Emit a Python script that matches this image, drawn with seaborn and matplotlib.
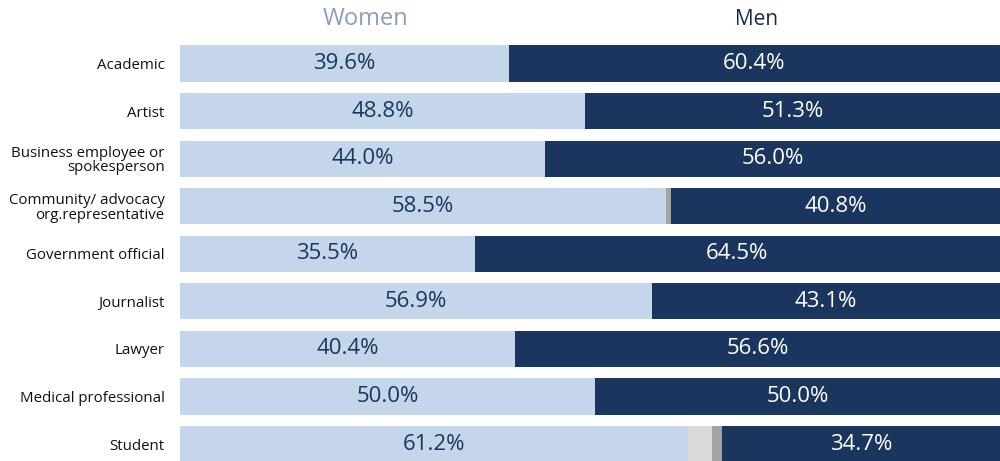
import numpy as np
import pandas as pd
import matplotlib.pyplot as plt
import seaborn as sns

# --- Data ---
categories = ["Academic", "Artist", "Business employee or\nspokesperson",
              "Community/ advocacy\norg.representative", "Government official",
              "Journalist", "Lawyer", "Medical professional", "Student"]
women = [39.6, 48.8, 44.0, 58.5, 35.5, 56.9, 40.4, 50.0, 61.2]
men = [60.4, 51.3, 56.0, 40.8, 64.5, 43.1, 56.6, 50.0, 34.7]
other_light = [0, 0, 0, 0, 0, 0, 0, 0, 2.9]
other_dark = [0, 0, 0, 0.7, 0, 0, 0, 0, 1.2]

df = pd.DataFrame({"cat": categories, "women": women, "men": men,
                   "o1": other_light, "o2": other_dark})
df["c1"] = df["women"] + df["o1"]
df["c2"] = df["c1"] + df["o2"]
df["full"] = 100.0

# --- Colours ---
c_women = "#c5d5ea"
c_men = "#1a365f"
c_o1 = "#d9d9d9"
c_o2 = "#a3a3a3"

sns.set_theme(style="white")
plt.rcParams["font.family"] = ["Open Sans", "DejaVu Sans"]

fig = plt.figure(figsize=(10, 4.61), dpi=100)
ax = fig.add_axes([0.18, 0, 0.82, 1])

# stacked bars drawn back to front (cumulative widths)
for col, colr in [("full", c_men), ("c2", c_o2), ("c1", c_o1), ("women", c_women)]:
    sns.barplot(data=df, x=col, y="cat", orient="h", color=colr, saturation=1,
                width=0.76, linewidth=0, ax=ax)

ax.set_xlim(0, 98.8)
ax.set_ylim(8.357, -1.334)
ax.set_xlabel("")
ax.set_ylabel("")
ax.set_xticks([])
ax.tick_params(axis="y", length=0, pad=11, labelsize=10.8, labelcolor="#111111")
for lbl in ax.get_yticklabels():
    lbl.set_horizontalalignment("right")
    lbl.set_multialignment("right")
    lbl.set_linespacing(0.95)
sns.despine(ax=ax, left=True, bottom=True, top=True, right=True)

# value labels
xmax = ax.get_xlim()[1]
for i, row in df.iterrows():
    ax.text(row["women"] / 2, i, f"{row['women']:.1f}%", ha="center", va="center",
            fontsize=16, color="#1a365f")
    ax.text((row["c2"] + xmax) / 2, i, f"{row['men']:.1f}%", ha="center", va="center",
            fontsize=16, color="white")

# column headers
fig.text(0.365, 0.958, "Women", ha="center", va="center", fontsize=17, color="#8a9dba")
fig.text(0.757, 0.958, "Men", ha="center", va="center", fontsize=15, color="#1a2b4a")

plt.savefig("out.png", dpi=100)
plt.close()
